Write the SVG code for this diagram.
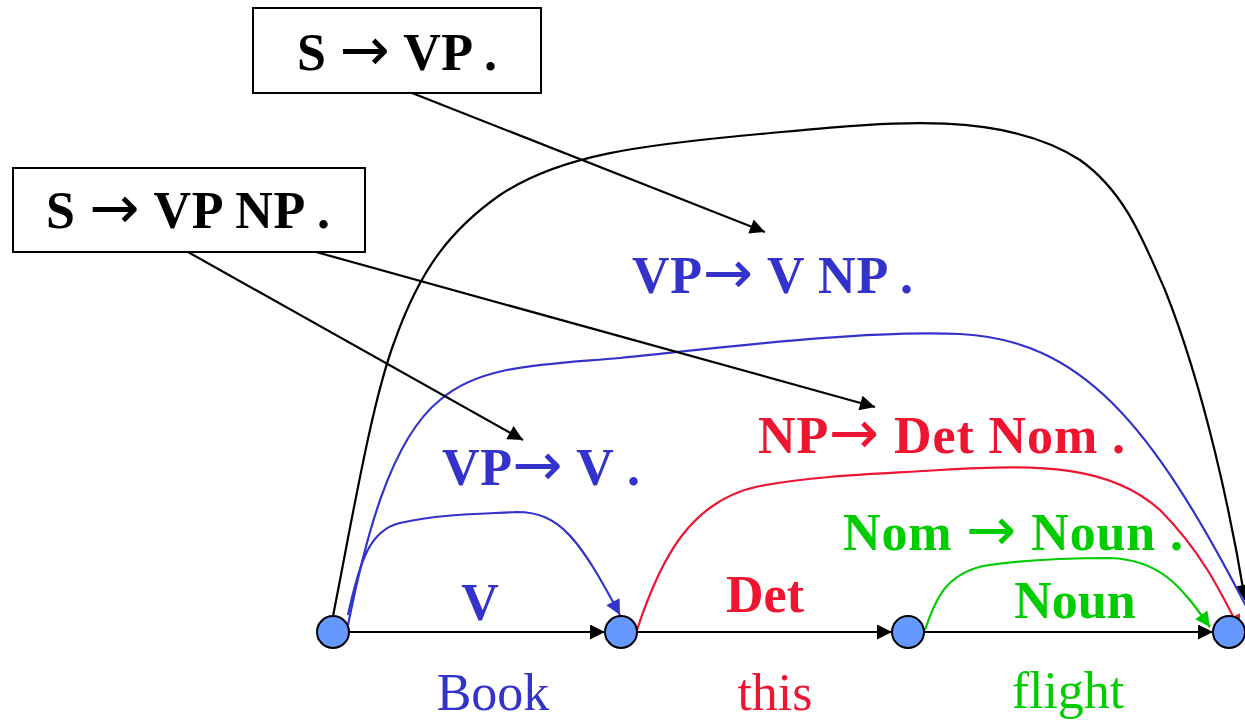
<svg xmlns="http://www.w3.org/2000/svg" width="1245" height="720" viewBox="0 0 1245 720">
<style>
.b{font-family:"Liberation Serif","Times New Roman",serif;font-weight:bold;font-size:52px}
.n{font-family:"Liberation Serif","Times New Roman",serif;font-size:52px}
.ar{font-family:"DejaVu Sans",sans-serif;font-weight:normal;font-size:60px}
.blue{fill:#3333cc}.red{fill:#ee1530}.green{fill:#00cc00}.blk{fill:#000}
.node{fill:#6699ff;stroke:#000;stroke-width:2}
.box{fill:#fff;stroke:#000;stroke-width:2}
.c{fill:none;stroke-width:2.2}
</style>
<defs>
<marker id="ak" viewBox="0 0 10 10" refX="10" refY="5" markerWidth="17" markerHeight="15" markerUnits="userSpaceOnUse" orient="auto"><path d="M0,0L10,5L0,10z" fill="#000"/></marker>
<marker id="ab" viewBox="0 0 10 10" refX="10" refY="5" markerWidth="17" markerHeight="15" markerUnits="userSpaceOnUse" orient="auto"><path d="M0,0L10,5L0,10z" fill="#3333cc"/></marker>
<marker id="ar" viewBox="0 0 10 10" refX="10" refY="5" markerWidth="17" markerHeight="15" markerUnits="userSpaceOnUse" orient="auto"><path d="M0,0L10,5L0,10z" fill="#ee1530"/></marker>
<marker id="ag" viewBox="0 0 10 10" refX="10" refY="5" markerWidth="17" markerHeight="15" markerUnits="userSpaceOnUse" orient="auto"><path d="M0,0L10,5L0,10z" fill="#00cc00"/></marker>
</defs>
<rect width="1245" height="720" fill="#fff"/>
<g id="connectors">
<line x1="349" y1="632" x2="605" y2="632" stroke="#000" stroke-width="2.2" marker-end="url(#ak)"/>
<line x1="637" y1="632" x2="892" y2="632" stroke="#000" stroke-width="2.2" marker-end="url(#ak)"/>
<line x1="924" y1="632" x2="1213" y2="632" stroke="#000" stroke-width="2.2" marker-end="url(#ak)"/>
<path class="c" stroke="#000" d="M333,616 C352,520 372,400 395,340 C420,270 450,230 500,195 C560,155 640,145 760,134 C880,123 1000,108 1080,160 C1125,192 1143,240 1165,290 C1205,390 1232,520 1245,600" marker-end="url(#ak)"/>
<path class="c" stroke="#3333cc" d="M348,625 C365,540 390,440 440,400 C480,365 540,365 620,358 C720,348 860,330 960,334 C1080,340 1150,420 1248,610"/>
<path class="c" stroke="#3333cc" d="M348,615 C360,560 370,530 400,523 C440,514 480,514 517,512 C560,512 580,540 620,615" marker-end="url(#ab)"/>
<path class="c" stroke="#ee1530" d="M637,630 C660,560 690,500 760,486 C820,475 880,474 940,470 C1040,464 1110,465 1160,510 C1200,550 1220,590 1240,630" marker-end="url(#ar)"/>
<path class="c" stroke="#00cc00" d="M925,630 C935,600 945,575 983,566 C1020,560 1070,558 1110,558 C1160,560 1180,585 1210,627" marker-end="url(#ag)"/>
<line x1="412" y1="93" x2="765" y2="232" stroke="#000" stroke-width="2.2" marker-end="url(#ak)"/>
<line x1="188" y1="252" x2="523" y2="440" stroke="#000" stroke-width="2.2" marker-end="url(#ak)"/>
<line x1="316" y1="252" x2="875" y2="407" stroke="#000" stroke-width="2.2" marker-end="url(#ak)"/>
</g>
<g id="box1"><rect class="box" x="253" y="8" width="288" height="85"/><text class="b blk" x="297" y="70" textLength="200" lengthAdjust="spacing">S <tspan class="ar">→</tspan> VP .</text></g>
<g id="box2"><rect class="box" x="13" y="168" width="352" height="84"/><text class="b blk" x="46" y="228" textLength="284" lengthAdjust="spacing">S <tspan class="ar">→</tspan> VP NP .</text></g>
<g id="n1"><circle class="node" cx="333" cy="632" r="16"/></g>
<g id="n2"><circle class="node" cx="621" cy="632" r="16"/></g>
<g id="n3"><circle class="node" cx="908" cy="632" r="16"/></g>
<g id="n4"><circle class="node" cx="1229" cy="632" r="16"/></g>
<g id="labels">
<text class="b blue" x="632" y="293" textLength="281" lengthAdjust="spacing">VP<tspan class="ar">→</tspan> V NP .</text>
<text class="b blue" x="442" y="485" textLength="198" lengthAdjust="spacing">VP<tspan class="ar">→</tspan> V .</text>
<text class="b red" x="758" y="453" textLength="367" lengthAdjust="spacing">NP<tspan class="ar">→</tspan> Det Nom .</text>
<text class="b green" x="843" y="550" textLength="340" lengthAdjust="spacing">Nom <tspan class="ar">→</tspan> Noun .</text>
<text class="b blue" x="480" y="620" text-anchor="middle">V</text>
<text class="b red" x="765" y="612" text-anchor="middle">Det</text>
<text class="b green" x="1075" y="618" text-anchor="middle">Noun</text>
<text class="n blue" x="493" y="710" text-anchor="middle">Book</text>
<text class="n red" x="775" y="710" text-anchor="middle">this</text>
<text class="n green" x="1068" y="708" text-anchor="middle">flight</text>
</g>
</svg>
